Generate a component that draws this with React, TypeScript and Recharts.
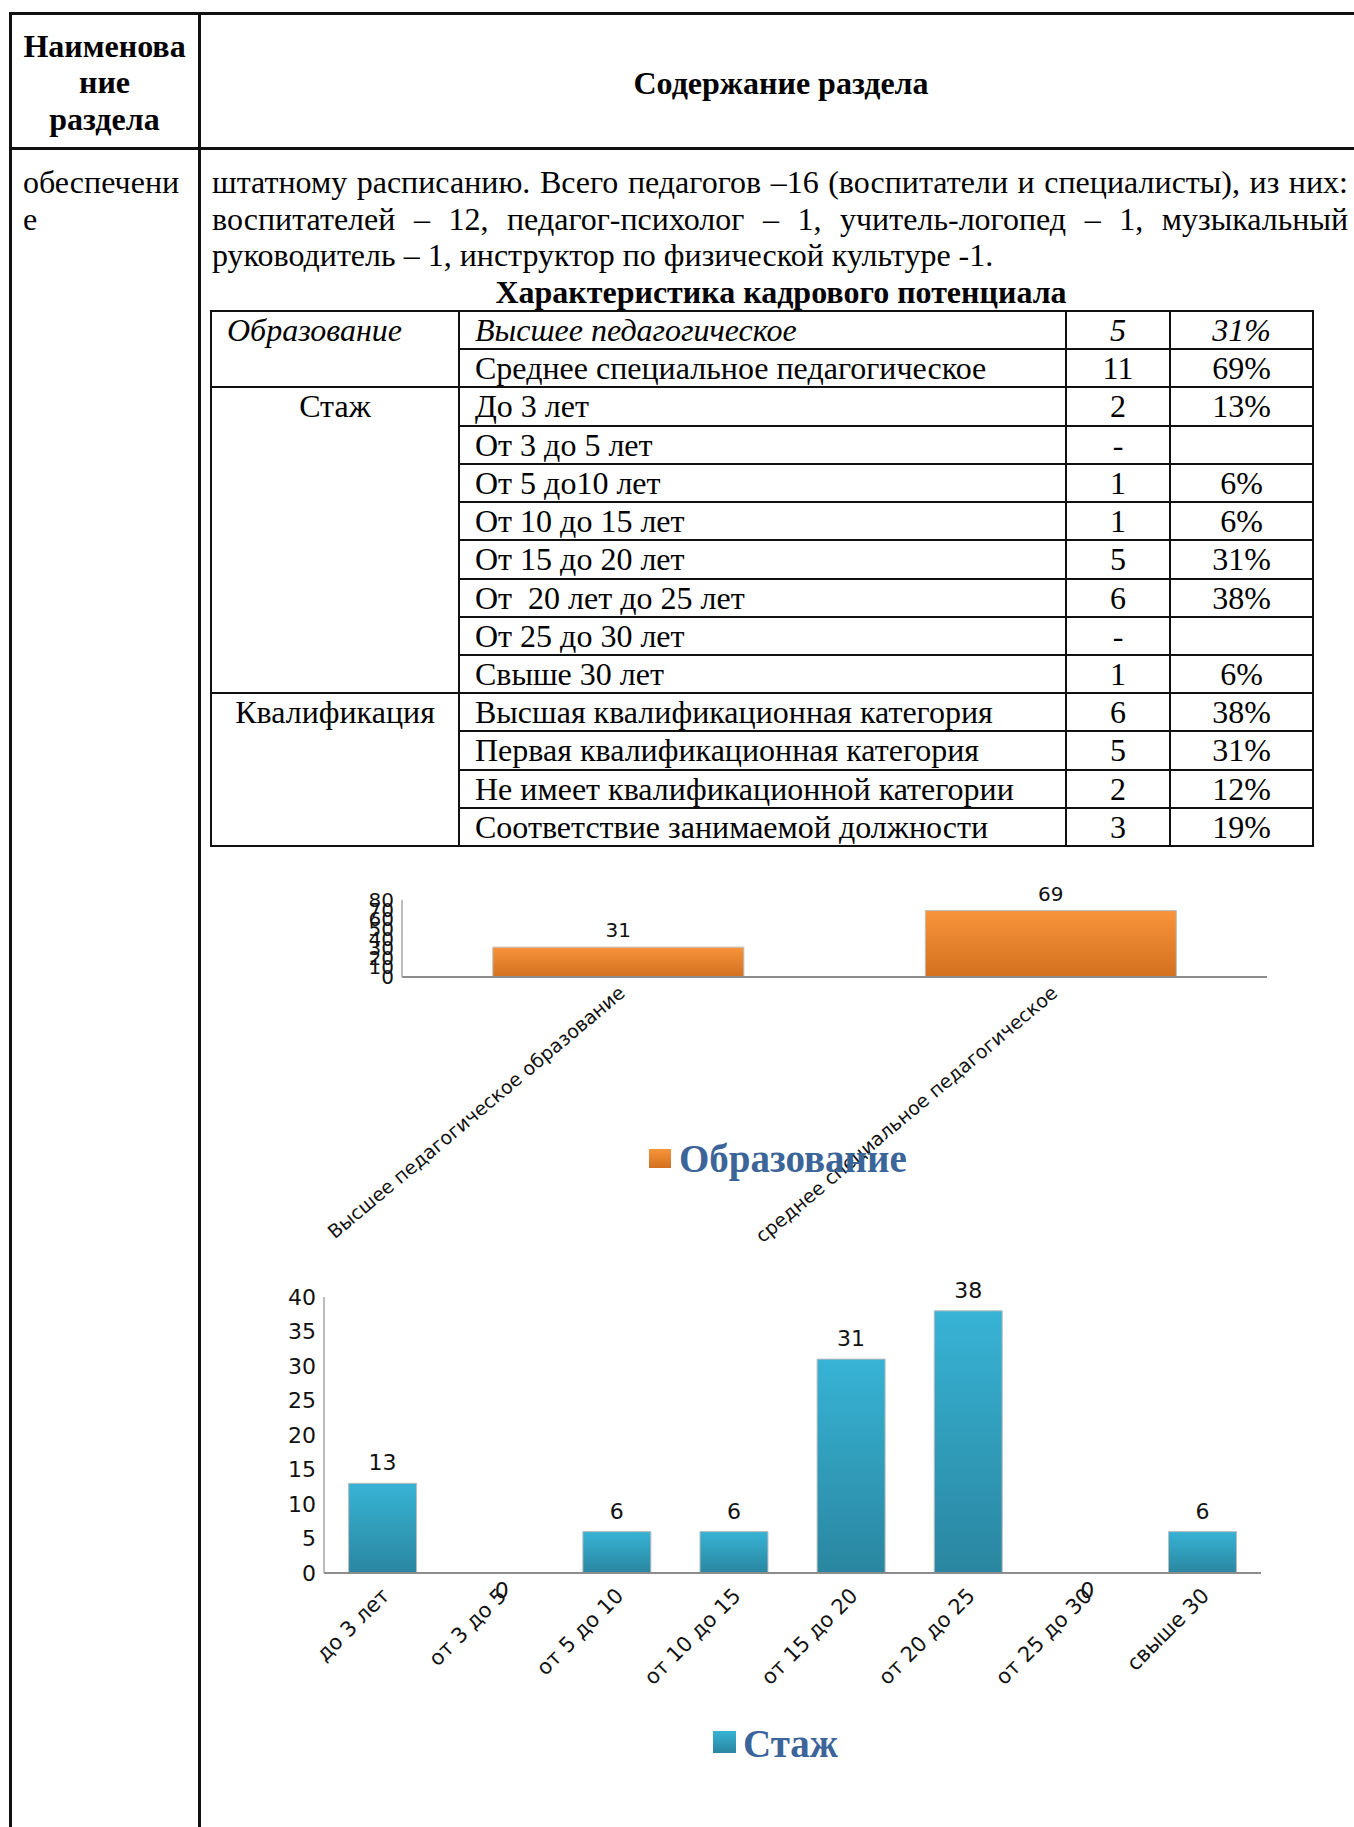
import React from 'react';
import { BarChart, Bar, XAxis, YAxis, LabelList } from 'recharts';

// ---------- data ----------
const headerLeftLines = ['Наименова', 'ние', 'раздела'];
const headerRight = 'Содержание раздела';
const sectionNameLines = ['обеспечени', 'е'];
const paragraphLines = [
  'штатному расписанию. Всего педагогов –16 (воспитатели и специалисты), из них:',
  'воспитателей – 12, педагог-психолог – 1, учитель-логопед – 1, музыкальный',
  'руководитель – 1, инструктор по физической культуре -1.',
];
const tableTitle = 'Характеристика кадрового потенциала';
const tableSections = ['Образование', 'Стаж', 'Квалификация'];
const sectionRowCounts = [2, 8, 4];
const tableItems = [
  'Высшее педагогическое',
  'Среднее специальное педагогическое',
  'До 3 лет',
  'От 3 до 5 лет',
  'От 5 до10 лет',
  'От 10 до 15 лет',
  'От 15 до 20 лет',
  'От  20 лет до 25 лет',
  'От 25 до 30 лет',
  'Свыше 30 лет',
  'Высшая квалификационная категория',
  'Первая квалификационная категория',
  'Не имеет квалификационной категории',
  'Соответствие занимаемой должности',
];
const tableCounts = ['5', '11', '2', '-', '1', '1', '5', '6', '-', '1', '6', '5', '2', '3'];
const tablePercents = ['31%', '69%', '13%', '', '6%', '6%', '31%', '38%', '', '6%', '38%', '31%', '12%', '19%'];

const eduCategories = ['Высшее педагогическое образование', 'среднее специальное педагогическое'];
const eduValues = [31, 69];
const eduTicks = [0, 10, 20, 30, 40, 50, 60, 70, 80];
const eduSeriesName = 'Образование';

const stazhCategories = ['до 3 лет', 'от 3 до 5', 'от 5 до 10', 'от 10 до 15', 'от 15 до 20', 'от 20 до 25', 'от 25 до 30', 'свыше 30'];
const stazhValues = [13, 0, 6, 6, 31, 38, 0, 6];
const stazhTicks = [0, 5, 10, 15, 20, 25, 30, 35, 40];
const stazhSeriesName = 'Стаж';

const eduData = eduCategories.map((name, i) => ({ name, value: eduValues[i] }));
const stazhData = stazhCategories.map((name, i) => ({ name, value: stazhValues[i] }));

// ---------- styles ----------
const SERIF = '"Liberation Serif", "Times New Roman", serif';
const SANS = '"DejaVu Sans", "Open Sans", sans-serif';
const FS = 32;
const LINE_H = 36.9;
const LEGEND_BLUE = '#3B6499';

const ROW_TOP = 311;
const ROW_H = (846 - 311) / 14;
const COLS = [211, 459, 1066, 1170, 1313];

const hLine = (key: string, x1: number, x2: number, y: number, t = 2) => (
  <div key={key} style={{ position: 'absolute', left: x1 - t / 2, top: y - t / 2, width: x2 - x1 + t, height: t, background: '#111' }} />
);
const vLine = (key: string, x: number, y1: number, y2: number, t = 2) => (
  <div key={key} style={{ position: 'absolute', left: x - t / 2, top: y1 - t / 2, width: t, height: y2 - y1 + t, background: '#111' }} />
);

// rotated category tick; optionally draws the "0" data label of a zero-height bar just under the axis
const makeTick = (fontSize: number, angle: number, dx: number, dy: number, values?: number[], labelSize = 20) => (props: any) => {
  const { x, y, payload } = props;
  const idx = payload.index;
  const showZero = values && values[idx] === 0;
  return (
    <g>
      <g transform={`translate(${x + dx},${y + dy})`}>
        <text x={0} y={0} transform={`rotate(${angle})`} textAnchor="end" fontSize={fontSize} fontFamily={SANS} fill="#111">
          {payload.value}
        </text>
      </g>
      {showZero ? (
        <text x={x + 2} y={y + 17} textAnchor="middle" fontSize={labelSize} fontFamily={SANS} fill="#111">
          {values![idx]}
        </text>
      ) : null}
    </g>
  );
};

const makeValueLabel = (fontSize: number, offset: number) => (props: any) => {
  const vb = props.viewBox || {};
  const x = Number(props.x ?? vb.x);
  const y = Number(props.y ?? vb.y);
  const w = Number(props.width ?? vb.width);
  const v = props.value;
  if (Number(v) === 0) return null;
  const cx = x + w / 2;
  return (
    <text x={cx} y={y - offset} textAnchor="middle" fontSize={fontSize} fontFamily={SANS} fill="#111">
      {v}
    </text>
  );
};

const LegendBox = ({ left, top, size, textLeft, textTop, fontSize, text, from, to }: any) => (
  <>
    <div style={{ position: 'absolute', left, top, width: size[0], height: size[1], background: `linear-gradient(${from}, ${to})` }} />
    <div style={{ position: 'absolute', left: textLeft, top: textTop, fontFamily: SERIF, fontWeight: 'bold', fontSize, lineHeight: `${fontSize}px`, color: LEGEND_BLUE, whiteSpace: 'nowrap' }}>
      {text}
    </div>
  </>
);

export default function App() {
  const lines: React.ReactNode[] = [];
  // outer table
  lines.push(hLine('o-top', 10, 1354, 13, 3));
  lines.push(hLine('o-head', 10, 1354, 148, 3));
  lines.push(vLine('o-left', 10, 13, 1827, 3));
  lines.push(vLine('o-div', 199, 13, 1827, 3));
  // inner table
  const tableBottom = ROW_TOP + ROW_H * 14;
  lines.push(hLine('t-top', COLS[0], COLS[4], ROW_TOP));
  COLS.forEach((c, i) => lines.push(vLine('t-v' + i, c, ROW_TOP, tableBottom)));
  for (let r = 1; r <= 14; r++) {
    lines.push(hLine('t-h' + r, COLS[1], COLS[4], ROW_TOP + r * ROW_H));
  }
  let acc = 0;
  sectionRowCounts.forEach((n, i) => {
    acc += n;
    lines.push(hLine('t-s' + i, COLS[0], COLS[1], ROW_TOP + acc * ROW_H));
  });

  const cellBase: React.CSSProperties = {
    position: 'absolute',
    height: ROW_H,
    lineHeight: `${ROW_H}px`,
    fontSize: FS,
    fontFamily: SERIF,
    whiteSpace: 'pre',
    color: '#000',
  };

  const cells: React.ReactNode[] = [];
  let start = 0;
  tableSections.forEach((s, i) => {
    const top = ROW_TOP + start * ROW_H;
    const first = i === 0;
    cells.push(
      <div key={'sec' + i} style={{ ...cellBase, top, left: first ? COLS[0] + 16 : COLS[0], width: first ? undefined : COLS[1] - COLS[0], textAlign: first ? 'left' : 'center', fontStyle: first ? 'italic' : 'normal' }}>
        {s}
      </div>
    );
    start += sectionRowCounts[i];
  });
  tableItems.forEach((t, r) => {
    const top = ROW_TOP + r * ROW_H;
    const it = r === 0 ? 'italic' : 'normal';
    cells.push(<div key={'it' + r} style={{ ...cellBase, top, left: COLS[1] + 16, fontStyle: it }}>{t}</div>);
    cells.push(<div key={'cn' + r} style={{ ...cellBase, top, left: COLS[2], width: COLS[3] - COLS[2], textAlign: 'center', fontStyle: it }}>{tableCounts[r]}</div>);
    cells.push(<div key={'pc' + r} style={{ ...cellBase, top, left: COLS[3], width: COLS[4] - COLS[3], textAlign: 'center', fontStyle: it }}>{tablePercents[r]}</div>);
  });

  const textBase: React.CSSProperties = { position: 'absolute', fontFamily: SERIF, fontSize: FS, lineHeight: `${LINE_H}px`, color: '#000' };

  return (
    <div style={{ position: 'absolute', left: 0, top: 0, width: 1354, height: 1827, overflow: 'hidden', background: '#fff' }}>
      {lines}
      {/* header */}
      <div style={{ ...textBase, left: 10, width: 189, top: 27.5, textAlign: 'center', fontWeight: 'bold' }}>
        {headerLeftLines.map((l, i) => <div key={i}>{l}</div>)}
      </div>
      <div style={{ ...textBase, left: 199, width: 1164, top: 65, textAlign: 'center', fontWeight: 'bold', whiteSpace: 'nowrap' }}>{headerRight}</div>
      {/* row 2 */}
      <div style={{ ...textBase, left: 23, top: 164 }}>
        {sectionNameLines.map((l, i) => <div key={i}>{l}</div>)}
      </div>
      <div style={{ ...textBase, left: 212, width: 1136, top: 164, lineHeight: '36.7px' }}>
        {paragraphLines.map((l, i) => (
          <div key={i} style={{ textAlign: 'justify', textAlignLast: i < paragraphLines.length - 1 ? 'justify' : 'left', whiteSpace: 'normal' }}>{l}</div>
        ))}
      </div>
      <div style={{ ...textBase, left: 199, width: 1164, top: 273.5, textAlign: 'center', fontWeight: 'bold', whiteSpace: 'nowrap' }}>{tableTitle}</div>
      {cells}

      {/* chart 1 */}
      <div style={{ position: 'absolute', left: 300, top: 870 }}>
        <BarChart width={1000} height={400} data={eduData} margin={{ top: 30, right: 33, bottom: 0, left: 0 }} barCategoryGap="21%">
          <defs>
            <linearGradient id="gOrange" x1="0" y1="0" x2="0" y2="1">
              <stop offset="0%" stopColor="#F8943A" />
              <stop offset="100%" stopColor="#D2701F" />
            </linearGradient>
          </defs>
          <XAxis dataKey="name" interval={0} tickLine={false} height={293} axisLine={{ stroke: '#8C8C8C', strokeWidth: 2 }} tick={makeTick(19, -40, 8, 10)} />
          <YAxis width={102} domain={[0, 80]} ticks={eduTicks} interval={0} tickLine={false} axisLine={{ stroke: '#A6A6A6', strokeWidth: 1.5 }} tick={{ fontSize: 20, fontFamily: SANS, fill: '#111' }} />
          <Bar dataKey="value" name={eduSeriesName} fill="url(#gOrange)" stroke="#BDBDBD" strokeWidth={1} isAnimationActive={false}>
            <LabelList dataKey="value" content={makeValueLabel(20, 10)} />
          </Bar>
        </BarChart>
      </div>
      <LegendBox left={649} top={1149} size={[22, 19]} textLeft={679} textTop={1139} fontSize={39} text={eduSeriesName} from="#F8943A" to="#D2701F" />

      {/* chart 2 */}
      <div style={{ position: 'absolute', left: 230, top: 1270 }}>
        <BarChart width={1080} height={500} data={stazhData} margin={{ top: 27, right: 49, bottom: 0, left: 0 }} barCategoryGap="21%">
          <defs>
            <linearGradient id="gTeal" x1="0" y1="0" x2="0" y2="1">
              <stop offset="0%" stopColor="#37B3D5" />
              <stop offset="100%" stopColor="#2A86A0" />
            </linearGradient>
          </defs>
          <XAxis dataKey="name" interval={0} tickLine={false} height={197} axisLine={{ stroke: '#8C8C8C', strokeWidth: 2 }} tick={makeTick(21, -45, 8, 16, stazhValues, 22)} />
          <YAxis width={94} domain={[0, 40]} ticks={stazhTicks} interval={0} tickLine={false} axisLine={{ stroke: '#A6A6A6', strokeWidth: 1.5 }} tick={{ fontSize: 22, fontFamily: SANS, fill: '#111' }} />
          <Bar dataKey="value" name={stazhSeriesName} fill="url(#gTeal)" stroke="#BDBDBD" strokeWidth={1} isAnimationActive={false}>
            <LabelList dataKey="value" content={makeValueLabel(22, 13)} />
          </Bar>
        </BarChart>
      </div>
      <LegendBox left={713} top={1731} size={[23, 22]} textLeft={743} textTop={1723.5} fontSize={39} text={stazhSeriesName} from="#37B3D5" to="#2A86A0" />
    </div>
  );
}
